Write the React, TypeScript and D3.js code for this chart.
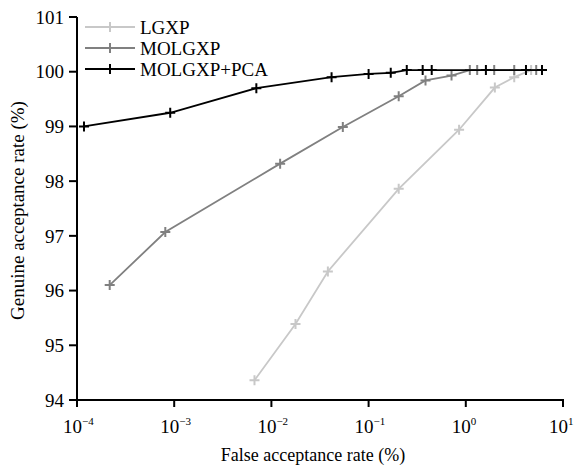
import React from "react";
import * as d3 from "d3";

const seriesNames = ["LGXP", "MOLGXP", "MOLGXP+PCA"];
const seriesColors = ["#c8c8c8", "#808080", "#000000"];

const lgxpFar = [0.0067, 0.0177, 0.0381, 0.204, 0.853, 1.99, 3.15, 4.7];
const lgxpGar = [94.36, 95.39, 96.35, 97.86, 98.94, 99.71, 99.9, 100.03];

const molgxpFar = [0.000217, 0.00081, 0.0123, 0.0543, 0.204, 0.385, 0.713, 1.1, 1.31, 1.96, 3.15, 5.3];
const molgxpGar = [96.1, 97.07, 98.32, 98.99, 99.55, 99.84, 99.93, 100.03, 100.03, 100.03, 100.03, 100.03];

const pcaFar = [0.000118, 0.00091, 0.007, 0.0416, 0.1, 0.169, 0.247, 0.36, 0.446, 1.61, 4.16, 6.08];
const pcaGar = [99.0, 99.25, 99.7, 99.9, 99.96, 99.98, 100.03, 100.03, 100.03, 100.03, 100.03, 100.03];

const xTickExps = [-4, -3, -2, -1, 0, 1];
const yTicks = [94, 95, 96, 97, 98, 99, 100, 101];

const W = 574;
const H = 468;
const margin = { left: 77, right: 11, top: 17, bottom: 68 };

export default function App() {
  const x = d3
    .scaleLog()
    .domain([1e-4, 10])
    .range([margin.left, W - margin.right]);
  const y = d3
    .scaleLinear()
    .domain([94, 101])
    .range([H - margin.bottom, margin.top]);

  const series = [
    { far: lgxpFar, gar: lgxpGar },
    { far: molgxpFar, gar: molgxpGar },
    { far: pcaFar, gar: pcaGar },
  ];

  const line = d3
    .line<[number, number]>()
    .x((d) => x(d[0]))
    .y((d) => y(d[1]));

  const font = "'Liberation Serif', 'Times New Roman', serif";
  const m = 5;
  const plus = (cx: number, cy: number) => `M${cx - m},${cy}H${cx + m}M${cx},${cy - m}V${cy + m}`;

  const x0 = margin.left;
  const yBottom = H - margin.bottom;

  return (
    <svg width={W} height={H} style={{ position: "absolute", left: 0, top: 0, background: "#fff" }}>
      <rect x={0} y={0} width={W} height={H} fill="#fff" />
      {/* data */}
      {series.map((s, i) => {
        const pts: [number, number][] = s.far.map((f, j) => [f, s.gar[j]]);
        return (
          <g key={i}>
            <path d={line(pts) || ""} fill="none" stroke={seriesColors[i]} strokeWidth={1.8} />
            <path
              d={pts.map((p) => plus(x(p[0]), y(p[1]))).join("")}
              fill="none"
              stroke={seriesColors[i]}
              strokeWidth={2}
            />
          </g>
        );
      })}
      {/* axes */}
      <line x1={x0} x2={x0} y1={y(101)} y2={yBottom + 1} stroke="#000" strokeWidth={2} />
      <line x1={x0 - 1} x2={W - margin.right + 1} y1={yBottom} y2={yBottom} stroke="#000" strokeWidth={2} />
      {yTicks.map((t) => (
        <g key={t}>
          <line x1={x0 - 8} x2={x0} y1={y(t)} y2={y(t)} stroke="#000" strokeWidth={2} />
          <text
            x={x0 - 13}
            y={y(t)}
            dy="0.35em"
            textAnchor="end"
            fontFamily={font}
            fontSize={19}
            fill="#000"
          >
            {t}
          </text>
        </g>
      ))}
      {xTickExps.map((e) => {
        const tx = x(Math.pow(10, e));
        return (
          <g key={e}>
            <line x1={tx} x2={tx} y1={yBottom} y2={yBottom + 7} stroke="#000" strokeWidth={2} />
            <text x={tx - 14} y={yBottom + 33} fontFamily={font} fontSize={19} fill="#000">
              10
              <tspan dy={-8} fontSize={11}>
                {e < 0 ? "\u2212" + Math.abs(e) : String(e)}
              </tspan>
            </text>
          </g>
        );
      })}
      {/* axis titles */}
      <text
        x={313}
        y={H - 7}
        textAnchor="middle"
        fontFamily={font}
        fontSize={18}
        fill="#000"
      >
        False acceptance rate (%)
      </text>
      <text
        transform={`translate(24,${(y(101) + yBottom) / 2 + 2}) rotate(-90)`}
        textAnchor="middle"
        fontFamily={font}
        fontSize={19}
        fill="#000"
      >
        Genuine acceptance rate (%)
      </text>
      {/* legend */}
      {seriesNames.map((n, i) => {
        const ly = 27 + i * 21;
        return (
          <g key={n}>
            <line x1={85} x2={135} y1={ly} y2={ly} stroke={seriesColors[i]} strokeWidth={1.8} />
            <path d={plus(110, ly)} stroke={seriesColors[i]} strokeWidth={2} fill="none" />
            <text x={140} y={ly} dy="0.35em" fontFamily={font} fontSize={19} fill="#000">
              {n}
            </text>
          </g>
        );
      })}
    </svg>
  );
}
